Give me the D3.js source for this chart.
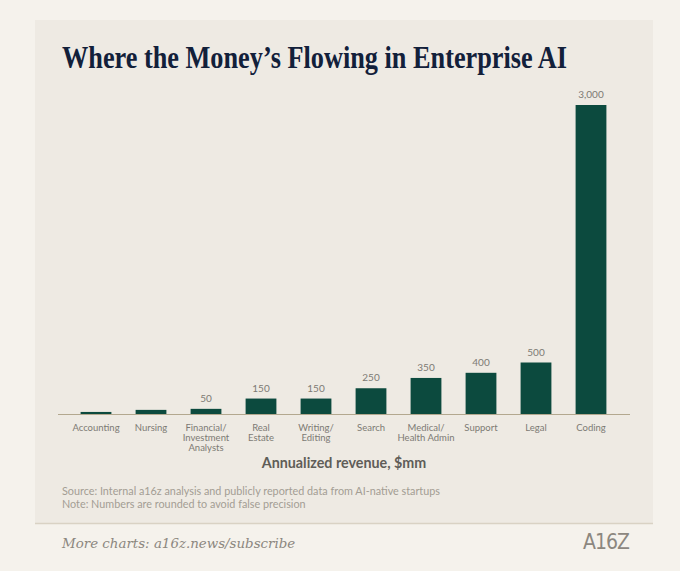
<!DOCTYPE html>
<html>
<head>
<meta charset="utf-8">
<script src="https://cdn.jsdelivr.net/npm/d3@7"></script>
<style>
  html, body { margin: 0; padding: 0; background: #f5f2ec; }
  svg { display: block; }
</style>
</head>
<body>
<div class="chart"></div>
<script>
const categories = ["Accounting", "Nursing", "Financial/\nInvestment\nAnalysts", "Real\nEstate", "Writing/\nEditing",
  "Search", "Medical/\nHealth Admin", "Support", "Legal", "Coding"];
const revenue = [20, 40, 50, 150, 150, 250, 350, 400, 500, 3000];
const labelShown = [false, false, true, true, true, true, true, true, true, true];

const width = 680, height = 571;

const svg = d3.select(".chart")
  .append("svg")
    .attr("width", width)
    .attr("height", height);

// outer background + panel
svg.append("rect").attr("width", width).attr("height", height).attr("fill", "#f5f2ec");
svg.append("rect")
  .attr("x", 35).attr("y", 20)
  .attr("width", 618).attr("height", 503)
  .attr("fill", "#eeeae3");
svg.append("line")
  .attr("x1", 35).attr("x2", 653)
  .attr("y1", 523.5).attr("y2", 523.5)
  .attr("stroke", "#d9d2c4").attr("stroke-width", 1.5);

// title, squeezed to the width seen in the reference
const title = svg.append("text")
  .attr("x", 62).attr("y", 68)
  .attr("font-family", "Liberation Serif, DejaVu Serif, serif")
  .attr("font-weight", "bold")
  .attr("font-size", 31)
  .attr("fill", "#12203a")
  .text("Where the Money\u2019s Flowing in Enterprise AI");
const tw = title.node().getComputedTextLength();
if (tw > 505) title.attr("textLength", 505).attr("lengthAdjust", "spacingAndGlyphs");

const x = d3.scaleBand()
  .domain(categories)
  .range([68.5, 618.5])
  .paddingInner(0.44)
  .paddingOuter(0.22);

const y = d3.scaleLinear()
  .domain([0, 3000])
  .range([414, 105]);

const g = svg.append("g");

g.selectAll("rect.bar")
  .data(categories)
  .enter()
  .append("rect")
    .attr("class", "bar")
    .attr("x", d => x(d))
    .attr("y", (d, i) => y(revenue[i]))
    .attr("width", x.bandwidth())
    .attr("height", (d, i) => y(0) - y(revenue[i]))
    .attr("fill", "#0c4a3e");

g.selectAll("text.value")
  .data(categories.filter((d, i) => labelShown[i]))
  .enter()
  .append("text")
    .attr("class", "value")
    .attr("x", d => x(d) + x.bandwidth() / 2)
    .attr("y", d => y(revenue[categories.indexOf(d)]) - 7)
    .attr("text-anchor", "middle")
    .attr("font-family", "Lato, Open Sans, sans-serif")
    .attr("font-size", 10)
    .attr("fill", "#7d7a74")
    .text(d => d3.format(",")(revenue[categories.indexOf(d)]));

// baseline
g.append("line")
  .attr("x1", 58).attr("x2", 630)
  .attr("y1", y(0) + 0.5).attr("y2", y(0) + 0.5)
  .attr("stroke", "#b3a88f").attr("stroke-width", 1);

// category labels
const cat = g.selectAll("text.cat")
  .data(categories)
  .enter()
  .append("text")
    .attr("class", "cat")
    .attr("x", d => x(d) + x.bandwidth() / 2)
    .attr("y", 431)
    .attr("text-anchor", "middle")
    .attr("font-family", "Lato, Open Sans, sans-serif")
    .attr("font-size", 9.5)
    .attr("fill", "#7d7a74");

cat.each(function(d) {
  const node = d3.select(this);
  d.split("\n").forEach((line, i) => {
    node.append("tspan")
      .attr("x", x(d) + x.bandwidth() / 2)
      .attr("dy", i === 0 ? 0 : 10)
      .text(line);
  });
});

svg.append("text")
  .attr("x", 344).attr("y", 468)
  .attr("text-anchor", "middle")
  .attr("font-family", "Lato, Open Sans, sans-serif")
  .attr("font-weight", "bold")
  .attr("font-size", 14.3)
  .attr("fill", "#5f5d58")
  .text("Annualized revenue, $mm");

svg.append("text")
  .attr("x", 62).attr("y", 495)
  .attr("font-family", "Lato, Open Sans, sans-serif")
  .attr("font-size", 10.8)
  .attr("fill", "#a39d93")
  .text("Source: Internal a16z analysis and publicly reported data from AI-native startups");

svg.append("text")
  .attr("x", 62).attr("y", 508)
  .attr("font-family", "Lato, Open Sans, sans-serif")
  .attr("font-size", 10.8)
  .attr("fill", "#a39d93")
  .text("Note: Numbers are rounded to avoid false precision");

// footer
svg.append("text")
  .attr("x", 62).attr("y", 548)
  .attr("font-family", "DejaVu Serif, Liberation Serif, serif")
  .attr("font-style", "italic")
  .attr("font-size", 13.4)
  .attr("fill", "#8c877f")
  .text("More charts: a16z.news/subscribe");

svg.append("text")
  .attr("x", 629).attr("y", 549)
  .attr("text-anchor", "end")
  .attr("font-family", "Liberation Sans Narrow, DejaVu Sans Condensed, sans-serif")
  .attr("font-size", 21)
  .attr("letter-spacing", -1)
  .attr("fill", "#8c877f")
  .text("A16Z");
</script>
</body>
</html>
